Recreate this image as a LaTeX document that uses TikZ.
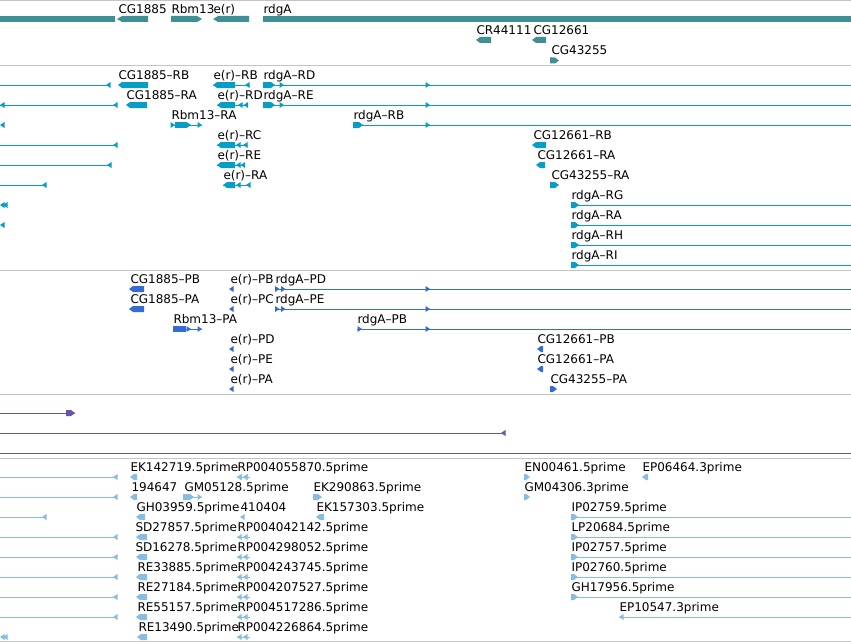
\documentclass[tikz,border=0pt]{standalone}
\usepackage{fontspec}
\setmainfont{DejaVu Sans}
\definecolor{sepgray}{HTML}{C4C4C4}
\definecolor{genecol}{HTML}{3F8F95}
\definecolor{trcol}{HTML}{089DC4}
\definecolor{prcol}{HTML}{346CD2}
\definecolor{pucol}{HTML}{6B52A8}
\definecolor{lbcol}{HTML}{88BCE0}
\newcounter{lbc}
% left-pointing exon from #1 to #2 at row #3
\newcommand\LX[3]{\fill (#1,#3) -- (#1+4,#3-3) -- (#2,#3-3) -- (#2,#3+3) -- (#1+4,#3+3) -- cycle;}
% right-pointing exon
\newcommand\RX[3]{\fill (#1,#3-3) -- (#2-4,#3-3) -- (#2,#3) -- (#2-4,#3+3) -- (#1,#3+3) -- cycle;}
% plain block
\newcommand\BX[3]{\fill (#1,#3-3) rectangle (#2,#3+3);}
% small triangles (tip at #1)
\newcommand\LT[2]{\fill (#1,#2) -- (#1+4.5,#2-3) -- (#1+4.5,#2+3) -- cycle;}
\newcommand\RT[2]{\fill (#1,#2) -- (#1-4.5,#2-3) -- (#1-4.5,#2+3) -- cycle;}
% thin line
\newcommand\LN[3]{\draw (#1,#3) -- (#2,#3);}
% label
\newcommand\LB[3]{\stepcounter{lbc}\node[lbl] (lab\arabic{lbc}) at (#1,#2-5.5) {#3};}
\tikzset{
  lbl/.style={anchor=base west, inner sep=0pt, font=\fontsize{12}{14}\selectfont, text=black},
  sep/.style={draw=sepgray, line width=1pt}
}
\begin{document}
\begin{tikzpicture}[x=1pt,y=-1pt,line width=1pt]
\useasboundingbox (0,0) rectangle (851,642);
\fill[white] (0,0) rectangle (851,642);
% separators
\foreach \yy in {0.5,66,270,394,458,641.3} \draw[sep] (0,\yy) -- (851,\yy);

% ---------------- genes ----------------
\begin{scope}[color=genecol]
\fill (0,16) rectangle (115,22);
\fill (117,19) -- (122,16) -- (148,16) -- (148,22) -- (122,22) -- cycle;
\fill (171,16) -- (197,16) -- (202,19) -- (197,22) -- (171,22) -- cycle;
\fill (213,19) -- (218,16) -- (249,16) -- (249,22) -- (218,22) -- cycle;
\fill (263,16) rectangle (851,22);
\LX{476}{491}{40}
\LX{532}{546}{40}
\RX{550}{559}{60.5}
\end{scope}
\LB{118}{19}{CG1885}
\LB{171}{19}{Rbm13}
\LB{213}{19}{e(r)}
\LB{263}{19}{rdgA}
\LB{476}{40}{CR44111}
\LB{533}{40}{CG12661}
\LB{551}{60.5}{CG43255}

% ---------------- transcripts ----------------
\begin{scope}[color=trcol]
% row 85
\LN{0}{110}{85}\LT{106}{85}
\LX{118}{148}{85}
\LN{213}{250}{85}\LX{213}{235}{85}\LT{245}{85}
\LN{263}{851}{85}\RX{263}{275}{85}\RT{284}{85}\RT{430}{85}
% row 105
\LN{0}{117}{105}\LT{0}{105}\LT{113}{105}
\LX{126}{147}{105}
\LN{217}{248}{105}\LX{217}{235}{105}\LT{238}{105}\LT{243.5}{105}
\LN{263}{851}{105}\RX{263}{275}{105}\RT{284}{105}\RT{430}{105}
% row 125
\LT{0}{125}
\LN{171}{202}{125}\RT{175}{125}\BX{175}{187}{125}\RT{191}{125}\RT{202}{125}
\LN{353}{851}{125}\RX{353}{363}{125}\RT{430}{125}
% row 145
\LN{0}{117}{145}\LT{113}{145}
\LN{217}{248}{145}\LX{217}{235}{145}\LT{236}{145}\LT{243}{145}
\LX{532}{546}{145}
% row 165
\LN{0}{111}{165}\LT{107}{165}
\LN{217}{245}{165}\LX{217}{235}{165}\LT{236}{165}\LT{240.5}{165}
\LX{536}{545}{165}
% row 185
\LN{0}{46}{185}\LT{42}{185}
\LN{223}{250}{185}\LX{223}{235}{185}\LT{236}{185}\LT{246}{185}
\RX{550}{559}{185}
% rows 205-265
\LT{0}{205}\LT{3}{205}
\LT{0}{225}
\foreach \yy in {205,225,245,265}{\LN{571}{851}{\yy}\RX{571}{579}{\yy}}
\end{scope}
\LB{118}{85}{CG1885–RB}
\LB{213}{85}{e(r)–RB}
\LB{263}{85}{rdgA–RD}
\LB{126}{105}{CG1885–RA}
\LB{217}{105}{e(r)–RD}
\LB{263}{105}{rdgA–RE}
\LB{171}{125}{Rbm13–RA}
\LB{353}{125}{rdgA–RB}
\LB{217}{145}{e(r)–RC}
\LB{533}{145}{CG12661–RB}
\LB{217}{165}{e(r)–RE}
\LB{537}{165}{CG12661–RA}
\LB{223}{185}{e(r)–RA}
\LB{551}{185}{CG43255–RA}
\LB{571}{205}{rdgA–RG}
\LB{571}{225}{rdgA–RA}
\LB{571}{245}{rdgA–RH}
\LB{571}{265}{rdgA–RI}

% ---------------- proteins ----------------
\begin{scope}[color=prcol]
\foreach \yy in {289,309}{
  \LX{129}{144}{\yy}
  \LT{229}{\yy}
  \LN{275}{851}{\yy}\RT{279.5}{\yy}\RT{285.5}{\yy}\RT{430}{\yy}
}
\LN{173}{202}{329}\BX{173}{186}{329}\RT{191}{329}\RT{202}{329}
\LN{357}{851}{329}\RT{362}{329}\RT{430}{329}
\LT{229}{349}\LT{229}{369}\LT{229}{389}
\LX{537}{543}{349}
\LX{537}{543}{369}
\RX{550}{557}{389}
\end{scope}
\LB{130}{289}{CG1885–PB}
\LB{230}{289}{e(r)–PB}
\LB{275}{289}{rdgA–PD}
\LB{130}{309}{CG1885–PA}
\LB{230}{309}{e(r)–PC}
\LB{275}{309}{rdgA–PE}
\LB{173}{329}{Rbm13–PA}
\LB{357}{329}{rdgA–PB}
\LB{230}{349}{e(r)–PD}
\LB{537}{349}{CG12661–PB}
\LB{230}{369}{e(r)–PE}
\LB{537}{369}{CG12661–PA}
\LB{230}{389}{e(r)–PA}
\LB{550}{389}{CG43255–PA}

% ---------------- purple track ----------------
\begin{scope}[color=pucol]
\LN{0}{75}{413}\RX{66}{75}{413}
\LN{0}{505}{433}\LT{501}{433}
\LN{0}{851}{453}
\end{scope}

% ---------------- ESTs ----------------
\begin{scope}[color=lbcol]
% row 477
\LN{0}{117}{477}\LT{113}{477}
\LX{130}{137}{477}
\LN{237}{250}{477}\LT{237}{477}\LT{243}{477}
\RX{524}{530}{477}
\LX{642}{648}{477}
% row 497
\LN{0}{117}{497}\LT{113}{497}
\LX{130}{137}{497}
\LN{183}{202}{497}\RX{183}{194}{497}\RT{202}{497}
\RX{313}{322}{497}
\RX{524}{530}{497}
% row 517
\LN{0}{46}{517}\LT{42}{517}
\LX{136}{145}{517}
\LT{240}{517}
\LX{316}{324}{517}
% rows 537-637 left part
\foreach \yy in {537,557,577,597,617}{\LN{0}{117}{\yy}\LT{113}{\yy}\LX{136}{147}{\yy}}
\LT{0}{637}\LT{3}{637}
\LX{137}{147}{637}
\foreach \yy in {477,537,557,577,597,617,637}{\LN{237}{250}{\yy}\LT{237}{\yy}\LT{243}{\yy}}
% right part
\foreach \yy in {517,537,557,577,597}{\LN{571}{851}{\yy}\RX{571}{578}{\yy}}
\LN{619}{851}{617}\LT{619}{617}
\end{scope}
\LB{130}{477}{EK142719.5prime}
\LB{237}{477}{RP004055870.5prime}
\LB{524}{477}{EN00461.5prime}
\LB{642}{477}{EP06464.3prime}
\LB{131}{497}{194647}
\LB{184}{497}{GM05128.5prime}
\LB{313}{497}{EK290863.5prime}
\LB{524}{497}{GM04306.3prime}
\LB{136}{517}{GH03959.5prime}
\LB{240}{517}{410404}
\LB{316}{517}{EK157303.5prime}
\LB{571}{517}{IP02759.5prime}
\LB{135}{537}{SD27857.5prime}
\LB{237}{537}{RP004042142.5prime}
\LB{571}{537}{LP20684.5prime}
\LB{135}{557}{SD16278.5prime}
\LB{237}{557}{RP004298052.5prime}
\LB{571}{557}{IP02757.5prime}
\LB{137}{577}{RE33885.5prime}
\LB{237}{577}{RP004243745.5prime}
\LB{571}{577}{IP02760.5prime}
\LB{137}{597}{RE27184.5prime}
\LB{237}{597}{RP004207527.5prime}
\LB{571}{597}{GH17956.5prime}
\LB{137}{617}{RE55157.5prime}
\LB{237}{617}{RP004517286.5prime}
\LB{619}{617}{EP10547.3prime}
\LB{138}{637}{RE13490.5prime}
\LB{237}{637}{RP004226864.5prime}
\end{tikzpicture}
\end{document}
